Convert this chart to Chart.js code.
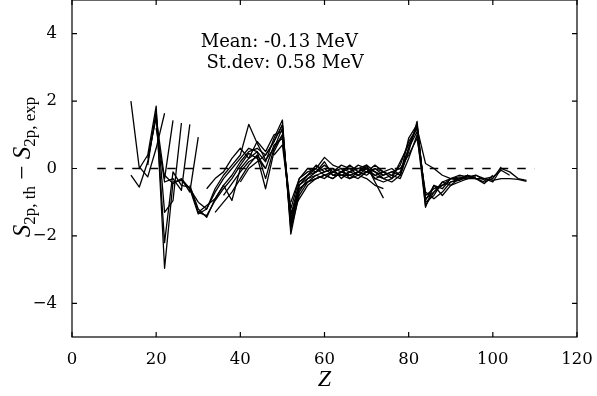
<!DOCTYPE html>
<html>
<head>
<meta charset="utf-8">
<script src="https://cdn.jsdelivr.net/npm/chart.js@4.4.0/dist/chart.umd.min.js"></script>
<style>
  html, body { margin: 0; padding: 0; background: #fff; }
</style>
</head>
<body>
<canvas id="chart" width="597" height="396"></canvas>
<script>
//-----------------------------------------------------------------------------
// Data: S2p(th) - S2p(exp) per chain, one value every 2 in Z from its start
//-----------------------------------------------------------------------------

var chainStartZ = [14, 14, 16, 18, 18, 20, 22, 26, 28, 30, 30, 32, 34, 36, 40, 48, 52, 54];

var chain01 = [2.0, 0.0, 0.4, 1.85, -2.96, -0.4, -0.35, -0.6, -1.0];
var chain02 = [-0.2, -0.55, 0.2, 1.6, -2.2, -0.1, -0.5, -0.55, -1.3, -1.4, -0.95, -0.6, -0.3, 0.1, 0.45, 0.3, 0.0];
var chain03 = [0.05, -0.25, 0.6, 1.64];
var chain04 = [0.3, 1.5, -0.3, 1.43];
var chain05 = [0.1, 1.7, -1.3, -0.95, 1.35];
var chain06 = [1.2, -0.4, -0.3, -0.65, 1.31];
var chain07 = [-0.2, -0.45, -0.3, -0.7, 0.93];
var chain08 = [-0.3, -0.6, -1.35, -1.2, -0.7, -0.3, 0.0, 0.3, 0.6, 0.5, 0.2, 0.9, 1.44, -1.95, -0.7, -0.3, -0.2, -0.1, 0.0, -0.1, -0.2, -0.1, 0.0, -0.1, -0.2];
var chain09 = [-0.5, -1.2, -1.45, -0.9, -0.5, -0.2, 0.2, 0.5, 0.6, 0.4, 0.8, 1.3, -1.7, -0.6, -0.4, -0.3, -0.2, -0.1, -0.2, -0.3, -0.1, 0.1, -0.4, -0.88];
var chain10 = [-1.0, -1.2, -0.6, -0.2, 0.1, 0.4, 1.31, 0.75, 0.25, 0.6, 1.0, -1.5, -0.5, -0.2, 0.0, 0.33, 0.1, 0.0, -0.1, -0.2, -0.3, -0.5, -0.6];
var chain11 = [-1.3, -1.1, -0.9, -0.5, -0.95, 0.0, 0.3, 0.5, -0.3, 0.6, 1.2, -1.8, -0.8, -0.4, -0.3, -0.2, -0.3, -0.1, 0.0, -0.2, -0.1, 0.0, -0.2, -0.1, -0.2, 0.5, 1.4, -1.15, -0.5, -0.6, -0.3, -0.35, -0.2, -0.3, -0.4, -0.3, 0.05];
var chain12 = [-0.6, -0.3, -0.1, 0.3, 0.6, 0.3, 0.8, 0.5, 1.0, 1.1, -1.4, -0.4, -0.2, 0.1, -0.1, 0.0, -0.3, -0.1, 0.0, 0.1, -0.1, -0.3, -0.2, 0.1, 0.8, 1.2, -0.9, -0.7, -0.4, -0.3, -0.2, -0.25, -0.3, -0.45, -0.2];
var chain13 = [-1.3, -1.0, -0.7, -0.3, 0.1, 0.4, 0.0, 0.7, 0.9, -1.2, -0.3, 0.0, -0.1, 0.2, -0.2, -0.1, 0.1, -0.1, -0.2, 0.0, -0.1, -0.3, -0.1, 0.6, 1.1, -0.8, -0.6, -0.5, -0.4, -0.3, -0.2, -0.3];
var chain14 = [-0.8, -0.45, -0.1, 0.2, 0.35, -0.6, 0.5, 1.0, -1.6, -0.5, -0.3, -0.1, 0.0, -0.2, -0.2, -0.2, -0.3, -0.1, -0.2, -0.1, 0.0, -0.2, 0.9, 1.3, -1.0, -0.8, -0.4, -0.5, -0.3, -0.3, -0.2, -0.35, -0.3];
var chain15 = [-0.4, 0.0, 0.2, 0.4, 0.8, 1.3, -1.7, -0.6, -0.4, -0.2, -0.3, -0.1, 0.0, -0.3, -0.2, 0.0, -0.3, -0.2, -0.1, 0.0, 0.4, 0.9, -0.7, -0.9, -0.7, -0.4, -0.35, -0.25, -0.2, -0.3, -0.25, -0.05, -0.2];
var chain16 = [0.4, 0.7, -1.3, -0.9, -0.5, -0.3, -0.2, -0.3, -0.1, -0.2, -0.1, 0.05, -0.3, -0.4, -0.3, 0.2, 0.7, 1.2, 0.15, 0.0, -0.2, -0.3, -0.25, -0.3, -0.3, -0.3, -0.35, -0.3, -0.3, -0.32, -0.38];
var chain17 = [-1.0, -0.3, -0.1, 0.0, -0.2, -0.1, 0.1, 0.0, 0.0, -0.1, 0.1, -0.1, -0.2, -0.3, 0.3, 1.0, -1.1, -0.7, -0.5, -0.3, -0.3, -0.2, -0.3, -0.3, -0.4, 0.0, -0.1, -0.3, -0.35];
var chain18 = [-0.4, -0.2, -0.1, 0.1, -0.1, -0.2, -0.1, 0.1, 0.0, -0.2, -0.3, -0.4, -0.2, 0.6, 1.3, -0.95, -0.5, -0.8, -0.5, -0.4, -0.3, -0.25];

var chains = [chain01, chain02, chain03, chain04, chain05, chain06, chain07, chain08, chain09,
              chain10, chain11, chain12, chain13, chain14, chain15, chain16, chain17, chain18];

// reference line at zero
var zeroLineZ = [6, 110];

// axis ticks
var xTicks = [0, 20, 40, 60, 80, 100, 120];
var yTicks = [-4, -2, 0, 2, 4];

var statLines = ['Mean: -0.13 MeV', ' St.dev: 0.58 MeV'];

//-----------------------------------------------------------------------------
// Build datasets
//-----------------------------------------------------------------------------

var datasets = [];

datasets.push({
  data: zeroLineZ.map(function(z) { return {x: z, y: 0}; }),
  borderColor: '#000',
  borderWidth: 1.3,
  borderDash: [8.5, 9],
  pointRadius: 0,
  showLine: true
});

chains.forEach(function(values, k) {
  var z0 = chainStartZ[k];
  datasets.push({
    data: values.map(function(v, i) { return {x: z0 + 2 * i, y: v}; }),
    borderColor: '#000',
    borderWidth: 1.3,
    borderJoinStyle: 'round',
    pointRadius: 0,
    showLine: true,
    tension: 0
  });
});

//-----------------------------------------------------------------------------
// Frame, inward ticks and labels (matplotlib look)
//-----------------------------------------------------------------------------

function drawYLabel(ctx, cx, cy) {
  var big = 'italic 25px "Liberation Serif"';
  var rm = '25px "Liberation Serif"';
  var sub = '17px "Liberation Serif"';
  var parts = [
    {t: 'S', f: big, dy: 0},
    {t: '2p, th', f: sub, dy: 5},
    {t: ' \u2212 ', f: rm, dy: 0},
    {t: 'S', f: big, dy: 0},
    {t: '2p, exp', f: sub, dy: 5}
  ];
  var total = 0;
  parts.forEach(function(p) { ctx.font = p.f; p.w = ctx.measureText(p.t).width; total += p.w; });
  ctx.save();
  ctx.translate(cx, cy);
  ctx.rotate(-Math.PI / 2);
  ctx.fillStyle = '#000';
  ctx.textBaseline = 'alphabetic';
  ctx.textAlign = 'left';
  var x = -total / 2;
  parts.forEach(function(p) {
    ctx.font = p.f;
    ctx.fillText(p.t, x, p.dy);
    x += p.w;
  });
  ctx.restore();
}

var framePlugin = {
  id: 'frame',
  afterDatasetsDraw: function(chart) {
    var ctx = chart.ctx, a = chart.chartArea;
    var xs = chart.scales.x, ys = chart.scales.y;
    var tl = 5;
    ctx.save();
    ctx.strokeStyle = '#000';
    ctx.lineWidth = 1.2;
    ctx.strokeRect(a.left, a.top, a.right - a.left, a.bottom - a.top);
    ctx.beginPath();
    xTicks.forEach(function(v) {
      var px = xs.getPixelForValue(v);
      ctx.moveTo(px, a.bottom); ctx.lineTo(px, a.bottom - tl);
      ctx.moveTo(px, a.top); ctx.lineTo(px, a.top + tl);
    });
    yTicks.forEach(function(v) {
      var py = ys.getPixelForValue(v);
      ctx.moveTo(a.left, py); ctx.lineTo(a.left + tl, py);
      ctx.moveTo(a.right, py); ctx.lineTo(a.right - tl, py);
    });
    ctx.stroke();

    // stats text
    ctx.fillStyle = '#000';
    ctx.font = '18px "DejaVu Serif"';
    ctx.textAlign = 'left';
    ctx.textBaseline = 'alphabetic';
    ctx.fillText(statLines[0], xs.getPixelForValue(30.6), ys.getPixelForValue(3.61));
    ctx.fillText(statLines[1], xs.getPixelForValue(30.6), ys.getPixelForValue(2.98));

    // axis titles
    ctx.font = 'italic 24px "Liberation Serif"';
    ctx.textAlign = 'center';
    ctx.fillText('Z', (a.left + a.right) / 2, 386);
    drawYLabel(ctx, 30, 167);
    ctx.restore();
  }
};

//-----------------------------------------------------------------------------
// Chart
//-----------------------------------------------------------------------------

var tickFont = {family: 'DejaVu Serif', size: 16.5};

new Chart(document.getElementById('chart'), {
  type: 'scatter',
  data: {datasets: datasets},
  options: {
    responsive: false,
    animation: false,
    layout: {padding: {left: 0, right: 20, top: 0, bottom: 0}},
    plugins: {legend: {display: false}, tooltip: {enabled: false}},
    scales: {
      x: {
        type: 'linear', min: 0, max: 120,
        grid: {display: false}, border: {display: false},
        afterBuildTicks: function(s) { s.ticks = xTicks.map(function(v) { return {value: v}; }); },
        afterFit: function(s) { s.height = 59; s.paddingLeft = 0; s.paddingRight = 0; },
        ticks: {font: tickFont, color: '#000', padding: 5, maxRotation: 0, autoSkip: false}
      },
      y: {
        type: 'linear', min: -5, max: 5,
        grid: {display: false}, border: {display: false},
        afterBuildTicks: function(s) { s.ticks = yTicks.map(function(v) { return {value: v}; }); },
        afterFit: function(s) { s.width = 72; s.paddingTop = 0; s.paddingBottom = 0; },
        ticks: {
          font: tickFont, color: '#000', padding: 7, autoSkip: false,
          callback: function(v) { return v < 0 ? '\u2212' + Math.abs(v) : String(v); }
        }
      }
    }
  },
  plugins: [framePlugin]
});
</script>
</body>
</html>
